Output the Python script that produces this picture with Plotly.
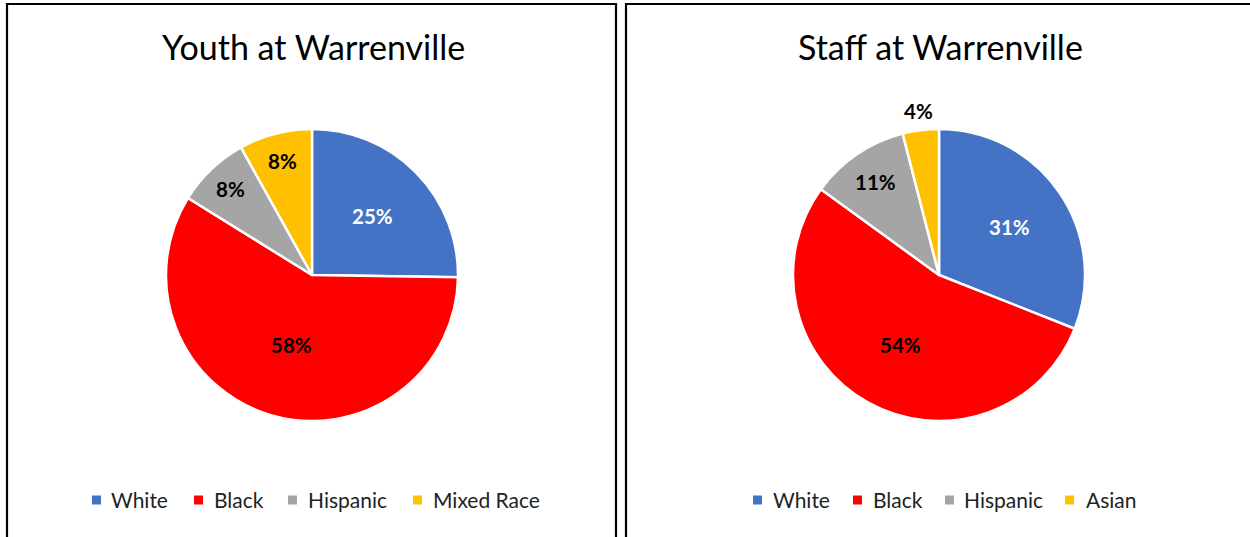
import math
import plotly.graph_objects as go

# Race breakdowns (percent of each population)
youth_labels = ["White", "Black", "Hispanic", "Mixed Race"]
youth_values = [25, 58, 8, 8]

staff_labels = ["White", "Black", "Hispanic", "Asian"]
staff_values = [31, 54, 11, 4]

slice_colors = ["#4472C4", "#FF0000", "#A5A5A5", "#FFC000"]
label_colors = ["white", "black", "black", "black"]

W, H = 1250, 537
FONT = "Lato"


def px_x(x):
    return x / W


def px_y(y):
    return 1 - y / H


panels = [
    dict(title="Youth at Warrenville", labels=youth_labels, values=youth_values,
         cx=312, cy=275, r=146, label_r=[0.58, 0.50, 0.81, 0.81],
         legend_sq=[96.5, 198.5, 292.5, 417.5], legend_tx=[109, 212, 306, 431]),
    dict(title="Staff at Warrenville", labels=staff_labels, values=staff_values,
         cx=939, cy=275, r=146, label_r=[0.58, 0.55, 0.77, 1.13],
         legend_sq=[757.5, 857.5, 949.5, 1069.5], legend_tx=[771, 871, 962, 1084]),
]

fig = go.Figure()
annotations = []
shapes = []

for p in panels:
    cx, cy, r = p["cx"], p["cy"], p["r"]
    fig.add_trace(go.Pie(
        labels=p["labels"],
        values=p["values"],
        sort=False,
        direction="clockwise",
        rotation=0,
        textinfo="none",
        marker=dict(colors=slice_colors, line=dict(color="white", width=2.5)),
        domain=dict(x=[px_x(cx - r), px_x(cx + r)], y=[px_y(cy + r), px_y(cy - r)]),
        showlegend=False,
        hoverinfo="label+value",
    ))

    # Title
    annotations.append(dict(
        text=p["title"], x=px_x(cx + 1), y=px_y(46), xref="paper", yref="paper",
        xanchor="center", yanchor="middle", showarrow=False,
        font=dict(family=FONT, size=34, color="black"),
    ))

    # Percentage labels placed at each slice's mid-angle
    total = sum(p["values"])
    cum = 0
    for i, v in enumerate(p["values"]):
        theta = 2 * math.pi * (cum + v / 2) / total
        cum += v
        d = p["label_r"][i] * r
        lx = cx + d * math.sin(theta)
        ly = cy - d * math.cos(theta)
        annotations.append(dict(
            text=f"<b>{v}%</b>", x=px_x(lx), y=px_y(ly), xref="paper", yref="paper",
            xanchor="center", yanchor="middle", showarrow=False,
            font=dict(family=FONT, size=20.5, color=label_colors[i]),
        ))

    # Legend: colored squares with labels
    for i, name in enumerate(p["labels"]):
        sx = p["legend_sq"][i]
        shapes.append(dict(
            type="rect", xref="paper", yref="paper",
            x0=px_x(sx - 4.5), x1=px_x(sx + 4.5), y0=px_y(504.5), y1=px_y(495.5),
            fillcolor=slice_colors[i], line=dict(width=0),
        ))
        annotations.append(dict(
            text=name, x=px_x(p["legend_tx"][i]), y=px_y(499), xref="paper", yref="paper",
            xanchor="left", yanchor="middle", showarrow=False,
            font=dict(family=FONT, size=21, color="#222222"),
        ))

# Panel frames
shapes.append(dict(type="path", xref="paper", yref="paper",
                   path=f"M {px_x(7)},{px_y(545)} L {px_x(7)},{px_y(4)} L {px_x(616)},{px_y(4)} L {px_x(616)},{px_y(545)}",
                   line=dict(color="black", width=2.2)))
shapes.append(dict(type="path", xref="paper", yref="paper",
                   path=f"M {px_x(626)},{px_y(545)} L {px_x(626)},{px_y(4)} L {px_x(1260)},{px_y(4)}",
                   line=dict(color="black", width=2.2)))

fig.update_layout(
    width=W, height=H,
    margin=dict(l=0, r=0, t=0, b=0),
    paper_bgcolor="white",
    plot_bgcolor="white",
    annotations=annotations,
    shapes=shapes,
)

fig.write_html("out.html")
